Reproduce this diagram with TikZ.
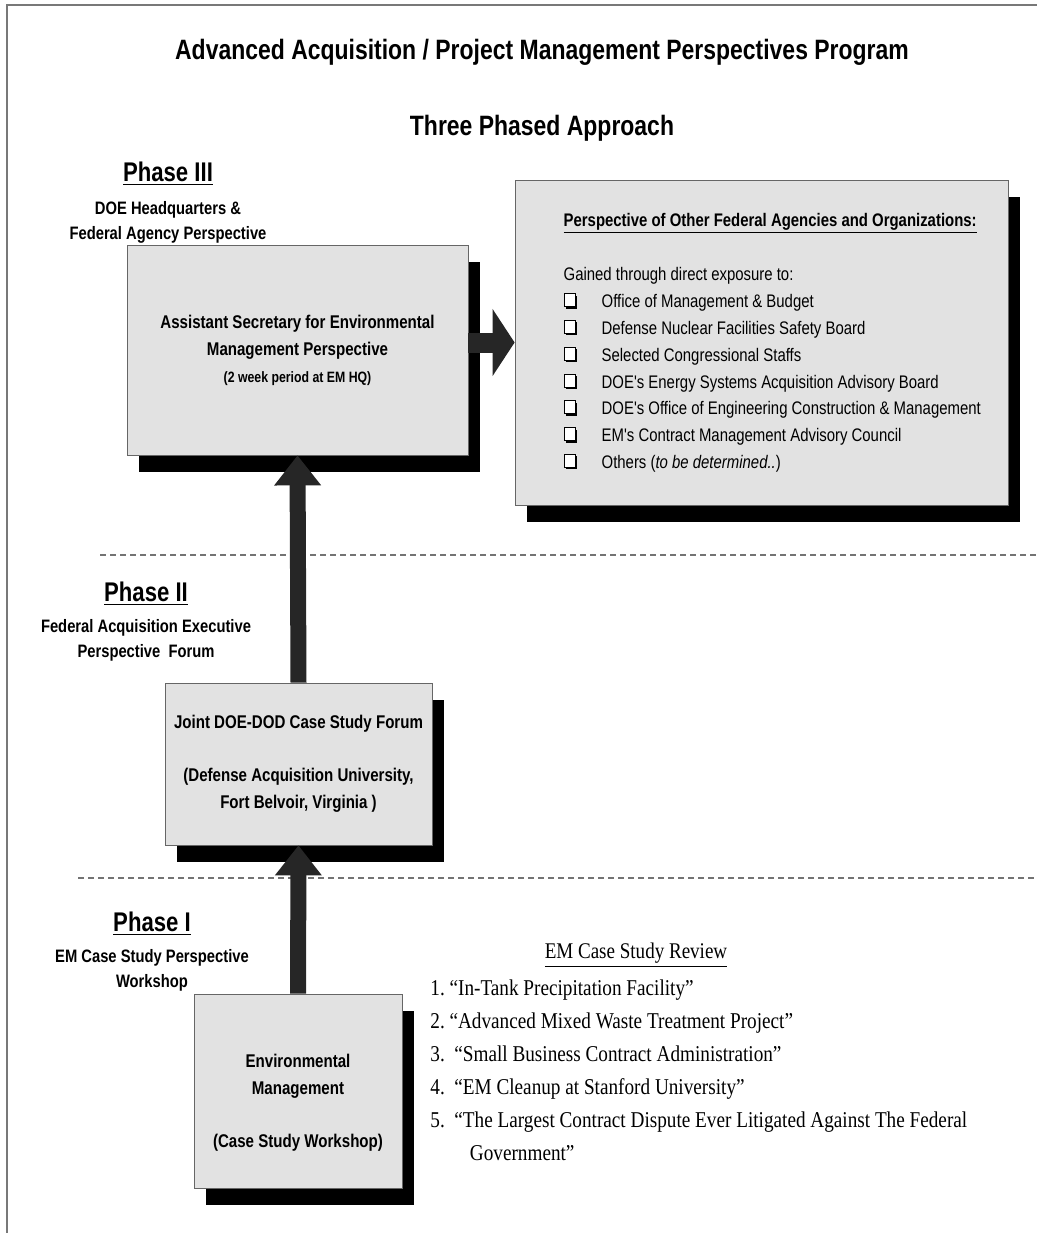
\documentclass[tikz,border=0pt]{standalone}
\usepackage{fontspec}
\setmainfont{Liberation Sans}
\newfontfamily\narrowsans[FakeStretch=0.82]{Liberation Sans}
\newfontfamily\narrowserif[FakeStretch=0.85]{Liberation Serif}
\usetikzlibrary{arrows.meta,shadows}
\definecolor{boxgray}{RGB}{226,226,226}
\definecolor{framegray}{RGB}{120,120,120}
\newcommand{\chkbox}{\tikz[baseline=-0.5pt,x=1pt,y=1pt]{\fill[black] (1,-1) rectangle (6.5,5.5); \filldraw[fill=white,draw=black,line width=0.5pt] (0,0) rectangle (5.5,6.5);}}

\begin{document}
\begin{tikzpicture}[x=0.5pt,y=-0.5pt]
  \tikzstyle{phasebox}=[draw=black!60, fill=boxgray, inner sep=0pt, align=center,
    drop shadow={shadow xshift=6pt, shadow yshift=-8.5pt, fill=black, opacity=1},
    font=\narrowsans\bfseries\fontsize{9.2}{13.5}\selectfont]
  \tikzstyle{phasehead}=[font=\narrowsans\bfseries\fontsize{13.5}{16}\selectfont]
  \tikzstyle{phasesub}=[align=center, font=\narrowsans\bfseries\fontsize{9}{12.5}\selectfont]
  \tikzstyle{blockarrow}=[draw=black!85, line width=8pt, -{Triangle[length=15pt,width=22.5pt]}]
  \tikzstyle{separator}=[draw=black!55, dash pattern=on 3pt off 2pt, line width=0.6pt]
  \useasboundingbox (0,0) rectangle (1037,1233);
  % page frame and phase separators
  \draw[framegray, line width=0.6pt] (1037,5) -- (7,5) -- (7,1233);
  \draw[separator] (100,555) -- (1037,555);
  \draw[separator] (78,878) -- (1037,878);

  \node[font=\narrowsans\bfseries\fontsize{14}{16}\selectfont] (title) at (542,52) {Advanced Acquisition / Project Management Perspectives Program};
  \node[font=\narrowsans\bfseries\fontsize{14}{16}\selectfont] (approach) at (542,128) {Three Phased Approach};

  % Phase III
  \node[phasehead] (ph3) at (168,174) {\underline{Phase III}};
  \node[phasesub] (ph3sub) at (168,222) {DOE Headquarters \&\\Federal Agency Perspective};
  \node[phasebox, minimum width=170.5pt, minimum height=105pt] (asec) at (297.5,350)
    {Assistant Secretary for Environmental\\Management Perspective\\{\fontsize{7.5}{11}\selectfont (2 week period at EM HQ)}};
  \node[phasebox, minimum width=246.5pt, minimum height=162.5pt] (agencies) at (761.5,342.5) {};
  \node[anchor=west, align=left, font=\narrowsans\fontsize{9.1}{13.4}\selectfont] (agtext) at ([xshift=21pt]agencies.west)
    {{\bfseries\underline{Perspective of Other Federal Agencies and Organizations:}}\\[14pt]
     Gained through direct exposure to:\\
     \makebox[19pt][l]{\chkbox}Office of Management \& Budget\\
     \makebox[19pt][l]{\chkbox}Defense Nuclear Facilities Safety Board\\
     \makebox[19pt][l]{\chkbox}Selected Congressional Staffs\\
     \makebox[19pt][l]{\chkbox}DOE's Energy Systems Acquisition Advisory Board\\
     \makebox[19pt][l]{\chkbox}DOE's Office of Engineering Construction \& Management\\
     \makebox[19pt][l]{\chkbox}EM's Contract Management Advisory Council\\
     \makebox[19pt][l]{\chkbox}Others (\textit{to be determined..})};

  % Phase II
  \node[phasehead] (ph2) at (146,594) {\underline{Phase II}};
  \node[phasesub] (ph2sub) at (146,640) {Federal Acquisition Executive\\Perspective\ \ Forum};
  \node[phasebox, minimum width=133.5pt, minimum height=81pt] (forum) at (298.5,764)
    {Joint DOE-DOD Case Study Forum\\[13pt](Defense Acquisition University,\\Fort Belvoir, Virginia )};

  % Phase I
  \node[phasehead] (ph1) at (152,924) {\underline{Phase I}};
  \node[phasesub] (ph1sub) at (152,970) {EM Case Study Perspective\\Workshop};
  \node[phasebox, minimum width=104pt, minimum height=97pt] (emws) at (298,1091)
    {\rule{0pt}{0pt}\\[5pt]Environmental\\Management\\[13pt](Case Study Workshop)};
  \node[font=\narrowserif\fontsize{11.2}{12}\selectfont] (review) at (636,955) {\underline{EM Case Study Review}};
  \node[anchor=north west, align=left, inner sep=0pt, font=\narrowserif\fontsize{11.3}{16.5}\selectfont] (cases) at (430,979)
    {1.~“In-Tank Precipitation Facility”\\
     2.~“Advanced Mixed Waste Treatment Project”\\
     3.\ \ “Small Business Contract Administration”\\
     4.\ \ “EM Cleanup at Stanford University”\\
     5.\ \ “The Largest Contract Dispute Ever Litigated Against The Federal\\
     \hspace*{1.75em}Government”};

  % phase arrows
  \draw[blockarrow] (emws.north) -- (forum.south);
  \draw[blockarrow] (forum.north) -- (asec.south);
  \draw[blockarrow, line width=10pt, -{Triangle[length=11pt,width=33pt]}] (asec.east |- agencies.west) -- (agencies.west);
\end{tikzpicture}
\end{document}
